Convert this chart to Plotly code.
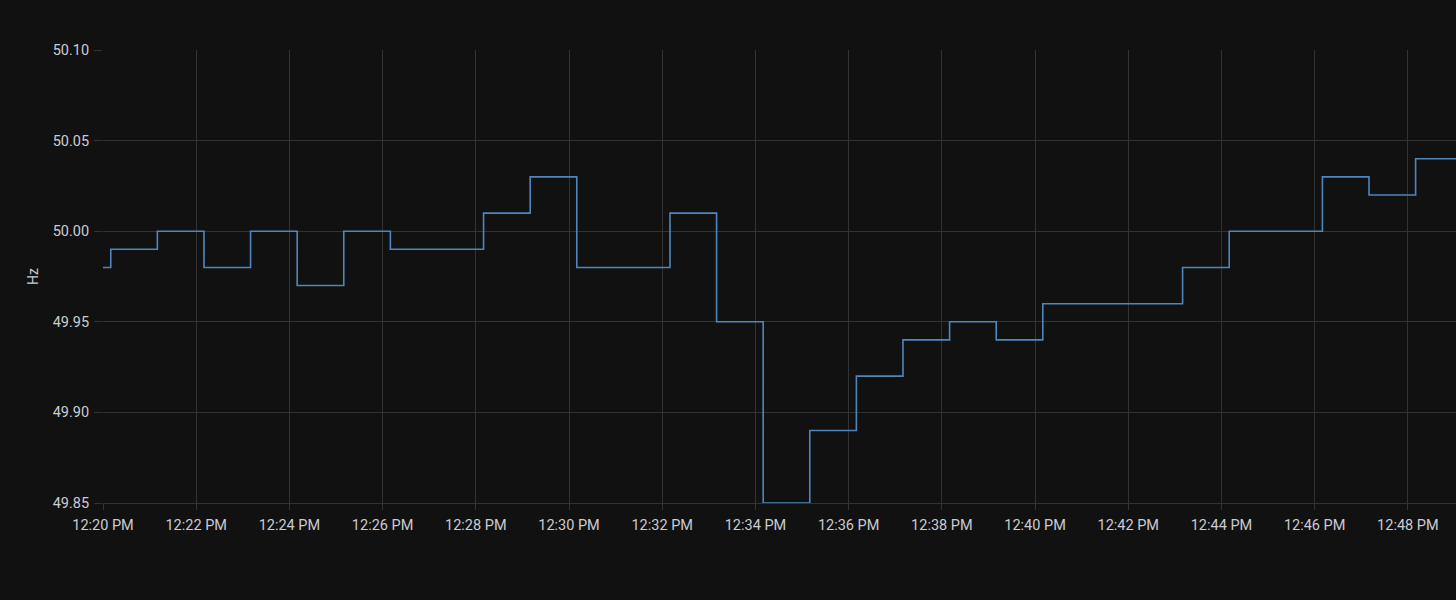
import plotly.graph_objects as go

# Sample times (step changes) and frequency values in Hz
times = [
    "2024-01-01 12:19:10", "2024-01-01 12:20:10", "2024-01-01 12:21:10", "2024-01-01 12:22:10",
    "2024-01-01 12:23:10", "2024-01-01 12:24:10", "2024-01-01 12:25:10", "2024-01-01 12:26:10",
    "2024-01-01 12:27:10", "2024-01-01 12:28:10", "2024-01-01 12:29:10", "2024-01-01 12:30:10",
    "2024-01-01 12:31:10", "2024-01-01 12:32:10", "2024-01-01 12:33:10", "2024-01-01 12:34:10",
    "2024-01-01 12:35:10", "2024-01-01 12:36:10", "2024-01-01 12:37:10", "2024-01-01 12:38:10",
    "2024-01-01 12:39:10", "2024-01-01 12:40:10", "2024-01-01 12:41:10", "2024-01-01 12:42:10",
    "2024-01-01 12:43:10", "2024-01-01 12:44:10", "2024-01-01 12:45:10", "2024-01-01 12:46:10",
    "2024-01-01 12:47:10", "2024-01-01 12:48:10", "2024-01-01 12:49:10",
]
hz = [
    49.98, 49.99, 50.00, 49.98, 50.00, 49.97, 50.00, 49.99,
    49.99, 50.01, 50.03, 49.98, 49.98, 50.01, 49.95, 49.85,
    49.89, 49.92, 49.94, 49.95, 49.94, 49.96, 49.96, 49.96,
    49.98, 50.00, 50.00, 50.03, 50.02, 50.04, 50.04,
]
x_range = ["2024-01-01 12:20:00", "2024-01-01 12:49:02"]
y_range = [49.85, 50.10]

BG = "#111111"
GRID = "#333333"
TXT = "#cbcbd2"

fig = go.Figure(go.Scatter(
    x=times, y=hz, mode="lines", line_shape="hv",
    line=dict(color="#4f86c0", width=1.6), hoverinfo="x+y",
))

fig.update_layout(
    width=1456, height=600,
    paper_bgcolor=BG, plot_bgcolor=BG,
    margin=dict(l=103, r=0, t=50, b=97),
    showlegend=False,
    font=dict(family="Roboto, Inter, sans-serif", size=14, color=TXT),
)
fig.update_xaxes(
    range=x_range, type="date", dtick=120000, tick0="2024-01-01 12:20:00",
    tickformat="%-I:%M %p", showgrid=True, gridcolor=GRID, gridwidth=1,
    ticks="outside", ticklen=6, tickcolor=GRID, zeroline=False,
    showline=True, linecolor=GRID, tickfont=dict(size=14.5, color=TXT),
    ticklabelstandoff=3,
)
fig.update_yaxes(
    range=y_range, dtick=0.05, tick0=49.85, tickformat=".2f",
    showgrid=True, gridcolor=GRID, gridwidth=1,
    ticks="outside", ticklen=8, tickcolor=GRID, zeroline=False,
    showline=False, tickfont=dict(size=14.5, color=TXT),
    ticklabelstandoff=2,
    title=dict(text="Hz", font=dict(size=14, color=TXT), standoff=10),
)

fig.write_html(
    "out.html",
    config={"displayModeBar": False},
    post_script="document.body.style.margin='0';document.body.style.background='#111111';",
)
